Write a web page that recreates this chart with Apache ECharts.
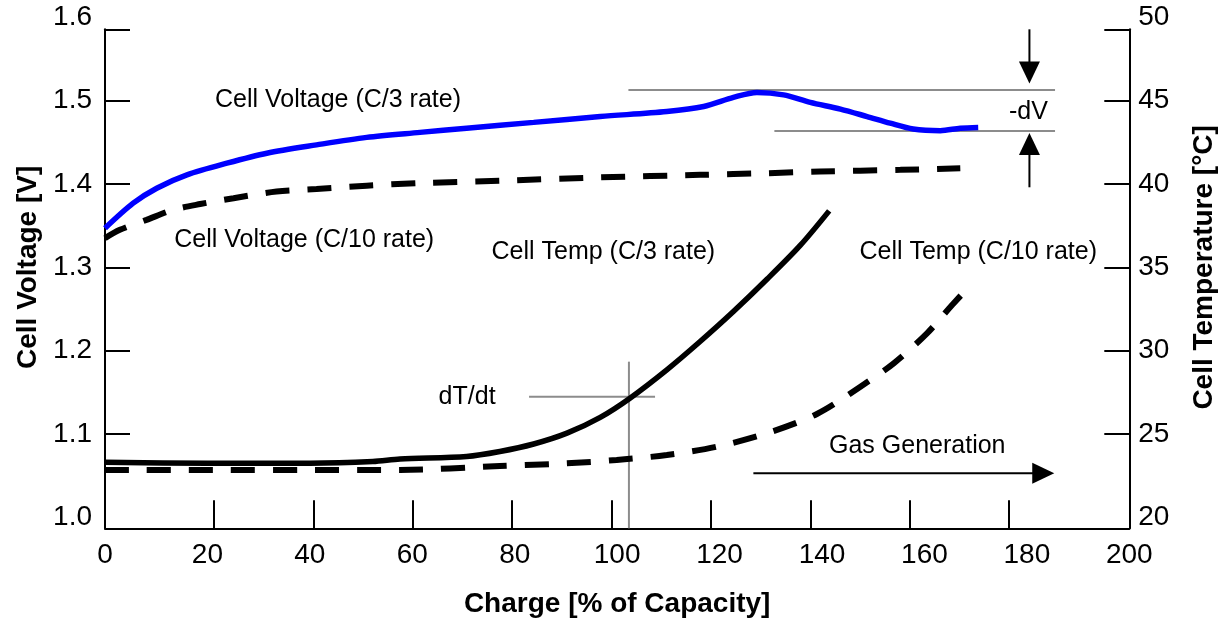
<!DOCTYPE html>
<html>
<head>
<meta charset="utf-8">
<script src="https://cdn.jsdelivr.net/npm/echarts@6/dist/echarts.min.js"></script>
<style>
html,body{margin:0;padding:0;background:#fff;}
#chart{width:1226px;height:632px;}
</style>
</head>
<body>
<div id="chart"></div>
<script>
// ---- tick labels ----
const xTickValues = [0, 20, 40, 60, 80, 100, 120, 140, 160, 180, 200];
const voltTickValues = [1.0, 1.1, 1.2, 1.3, 1.4, 1.5, 1.6];
const tempTickValues = [20, 25, 30, 35, 40, 45, 50];

// ---- Cell Voltage (C/3 rate) ----
const chargeVoltC3 = [0, 5.5, 10.1, 16.0, 23.8, 31.6, 41.3, 51.1, 61.5, 70.6, 83.7, 96.7, 109.7, 116.9, 122.7, 127.3, 132.5, 137.7, 143.6, 148.8, 153.3, 157.8, 163.1, 167.0, 170.5];
const voltC3 = [1.347, 1.377, 1.395, 1.411, 1.425, 1.437, 1.447, 1.456, 1.462, 1.467, 1.474, 1.481, 1.487, 1.493, 1.504, 1.510, 1.507, 1.498, 1.490, 1.481, 1.473, 1.466, 1.464, 1.467, 1.468];

// ---- Cell Voltage (C/10 rate) ----
const chargeVoltC10 = [0, 2.9, 8.1, 13.3, 18.6, 25.1, 33.5, 41.3, 51.1, 60.9, 77.1, 96.7, 116.2, 129.2, 139.6, 155.3, 167.0];
const voltC10 = [1.335, 1.345, 1.357, 1.369, 1.376, 1.383, 1.391, 1.394, 1.398, 1.401, 1.404, 1.408, 1.411, 1.413, 1.415, 1.417, 1.419];

// ---- Cell Temp (C/3 rate) ----
const chargeTempC3 = [0, 20, 40, 52.3, 57.6, 70.6, 77.1, 83.7, 90.2, 96.7, 102.5, 109.7, 116.2, 122.7, 129.3, 135.7, 141.4];
const tempC3 = [23.3, 23.25, 23.25, 23.35, 23.5, 23.65, 23.95, 24.4, 25.05, 26.0, 27.15, 28.85, 30.55, 32.35, 34.3, 36.3, 38.39];

// ---- Cell Temp (C/10 rate) ----
const chargeTempC10 = [0, 57.6, 77.1, 90.2, 99.9, 109.7, 119.5, 129.2, 139.0, 147.5, 154.0, 160.5, 165.4, 169.5];
const tempC10 = [22.84, 22.84, 23.08, 23.24, 23.44, 23.74, 24.24, 25.04, 26.2, 27.84, 29.24, 31.04, 32.74, 34.1];

// ---- annotation guide lines (data units) ----
const dvUpperX = [102.2, 185.5];  const dvUpperV = [1.5128, 1.5128];
const dvLowerX = [130.7, 185.5];  const dvLowerV = [1.4636, 1.4636];
const dtdtVertX = [102.3, 102.3]; const dtdtVertT = [29.34, 19.34];
const dtdtHorX = [82.8, 107.4];   const dtdtHorT = [27.24, 27.24];

// ---- arrows (shafts + heads) ----
const dvDownShaftX = [180.5, 180.5]; const dvDownShaftV = [1.5857, 1.534];
const dvUpShaftX = [180.5, 180.5];   const dvUpShaftV = [1.3961, 1.448];
const gasShaftX = [126.6, 183.2];    const gasShaftV = [1.0528, 1.0528];
const arrowHeadX = [180.5, 180.5, 183.2];
const arrowHeadV = [1.534, 1.448, 1.0528];
const arrowHeadRot = [180, 0, -90];

// ---- annotation texts ----
const annoText = ['Cell Voltage (C/3 rate)', 'Cell Voltage (C/10 rate)', 'Cell Temp (C/3 rate)', 'Cell Temp (C/10 rate)', 'dT/dt', '-dV', 'Gas Generation'];
const annoX = [45.5, 38.9, 97.3, 170.5, 70.7, 180.3, 158.6];
const annoV = [1.5008, 1.3328, 1.318, 1.318, 1.1447, 1.4868, 1.0859];

const zip = (a, b) => a.map((v, i) => [v, b[i]]);
const FONT = "'Liberation Sans', Arial, Helvetica, sans-serif";
const BLACK = '#000000';

const chart = echarts.init(document.getElementById('chart'), null, {renderer: 'canvas'});

const noSplit = {show: false};
const option = {
  animation: false,
  backgroundColor: '#ffffff',
  textStyle: {fontFamily: FONT, color: BLACK},
  tooltip: {show: false},
  grid: [
    {left: 105, right: 96.7, top: 17.4, bottom: 114.7, outerBoundsMode: 'none', containLabel: false},
    {left: 105, right: 96.7, top: 29.3, bottom: 103.7, outerBoundsMode: 'none', containLabel: false}
  ],
  xAxis: [
    {gridIndex: 0, type: 'value', min: 0, max: 200, show: false, splitLine: noSplit},
    {
      gridIndex: 1, type: 'value', min: 0, max: 200, position: 'bottom',
      axisLine: {show: true, onZero: false, lineStyle: {color: BLACK, width: 2}},
      axisTick: {show: false},
      splitLine: noSplit,
      axisLabel: {customValues: xTickValues, formatter: v => String(v), color: BLACK, fontSize: 28, fontFamily: FONT, margin: 13},
      name: 'Charge [% of Capacity]', nameLocation: 'middle', nameGap: 62,
      nameTextStyle: {fontWeight: 'bold', fontSize: 28, color: BLACK, fontFamily: FONT}
    },
    {
      gridIndex: 1, type: 'value', min: -1.93, max: 204.2, position: 'bottom',
      axisLine: {show: false},
      axisTick: {show: true, inside: true, length: 28, customValues: xTickValues.slice(1, -1), lineStyle: {color: BLACK, width: 2}},
      axisLabel: {show: false},
      splitLine: noSplit
    }
  ],
  yAxis: [
    {
      gridIndex: 0, type: 'value', position: 'left', min: 1.0, max: 1.6,
      axisLine: {show: false},
      axisTick: {show: true, inside: true, length: 25, customValues: voltTickValues.slice(1, -1), lineStyle: {color: BLACK, width: 2}},
      axisLabel: {customValues: voltTickValues, formatter: v => v.toFixed(1), color: BLACK, fontSize: 28, fontFamily: FONT, margin: 13},
      splitLine: noSplit,
      name: 'Cell Voltage [V]', nameLocation: 'middle', nameRotate: 90, nameGap: 62,
      nameTextStyle: {fontWeight: 'bold', fontSize: 28, color: BLACK, fontFamily: FONT}
    },
    {
      gridIndex: 0, type: 'value', position: 'right', min: 20, max: 50,
      axisLine: {show: false},
      axisTick: {show: true, inside: true, length: 25, customValues: tempTickValues.slice(1, -1), lineStyle: {color: BLACK, width: 2}},
      axisLabel: {customValues: tempTickValues, formatter: v => String(v), color: BLACK, fontSize: 28, fontFamily: FONT, margin: 9},
      splitLine: noSplit,
      name: 'Cell Temperature [°C]', nameLocation: 'middle', nameRotate: 90, nameGap: 61,
      nameTextStyle: {fontWeight: 'bold', fontSize: 28, color: BLACK, fontFamily: FONT}
    },
    {
      gridIndex: 1, type: 'value', position: 'left', min: 1.0, max: 1.6,
      axisLine: {show: true, onZero: false, lineStyle: {color: BLACK, width: 2}},
      axisTick: {show: true, inside: true, length: 25, customValues: [voltTickValues[voltTickValues.length - 1]], lineStyle: {color: BLACK, width: 2}},
      axisLabel: {show: false},
      splitLine: noSplit
    },
    {
      gridIndex: 1, type: 'value', position: 'right', min: 20, max: 50,
      axisLine: {show: true, onZero: false, lineStyle: {color: BLACK, width: 2}},
      axisTick: {show: true, inside: true, length: 25, customValues: [tempTickValues[tempTickValues.length - 1]], lineStyle: {color: BLACK, width: 2}},
      axisLabel: {show: false},
      splitLine: noSplit
    }
  ],
  series: [
    // gray guide lines
    {type: 'line', name: 'dV upper', xAxisIndex: 0, yAxisIndex: 0, data: zip(dvUpperX, dvUpperV), symbol: 'none', clip: false, silent: true, z: 1, lineStyle: {color: '#8c8c8c', width: 2}},
    {type: 'line', name: 'dV lower', xAxisIndex: 0, yAxisIndex: 0, data: zip(dvLowerX, dvLowerV), symbol: 'none', clip: false, silent: true, z: 1, lineStyle: {color: '#8c8c8c', width: 2}},
    {type: 'line', name: 'dTdt vertical', xAxisIndex: 0, yAxisIndex: 1, data: zip(dtdtVertX, dtdtVertT), symbol: 'none', clip: false, silent: true, z: 1, lineStyle: {color: '#8c8c8c', width: 2}},
    {type: 'line', name: 'dTdt horizontal', xAxisIndex: 0, yAxisIndex: 1, data: zip(dtdtHorX, dtdtHorT), symbol: 'none', clip: false, silent: true, z: 1, lineStyle: {color: '#8c8c8c', width: 2}},
    // arrow shafts
    {type: 'line', name: 'dV down arrow', xAxisIndex: 0, yAxisIndex: 0, data: zip(dvDownShaftX, dvDownShaftV), symbol: 'none', clip: false, silent: true, z: 3, lineStyle: {color: BLACK, width: 2}},
    {type: 'line', name: 'dV up arrow', xAxisIndex: 0, yAxisIndex: 0, data: zip(dvUpShaftX, dvUpShaftV), symbol: 'none', clip: false, silent: true, z: 3, lineStyle: {color: BLACK, width: 2}},
    {type: 'line', name: 'Gas arrow', xAxisIndex: 0, yAxisIndex: 0, data: zip(gasShaftX, gasShaftV), symbol: 'none', clip: false, silent: true, z: 3, lineStyle: {color: BLACK, width: 2}},
    // arrow heads
    {type: 'scatter', name: 'arrow heads', xAxisIndex: 0, yAxisIndex: 0, clip: false, silent: true, z: 4,
      symbol: 'triangle', symbolSize: [21, 22],
      data: arrowHeadX.map((x, i) => ({value: [x, arrowHeadV[i]], symbolRotate: arrowHeadRot[i]})),
      itemStyle: {color: BLACK, opacity: 1}},
    // curves
    {type: 'line', name: 'Cell Voltage (C/10 rate)', xAxisIndex: 0, yAxisIndex: 0, data: zip(chargeVoltC10, voltC10), symbol: 'none', smooth: 0.3, z: 5,
      lineStyle: {color: BLACK, width: 6, type: [24, 18], cap: 'butt'}},
    {type: 'line', name: 'Cell Temp (C/10 rate)', xAxisIndex: 0, yAxisIndex: 1, data: zip(chargeTempC10, tempC10), symbol: 'none', smooth: 0.3, z: 5,
      lineStyle: {color: BLACK, width: 6, type: [24, 18], cap: 'butt'}},
    {type: 'line', name: 'Cell Temp (C/3 rate)', xAxisIndex: 0, yAxisIndex: 1, data: zip(chargeTempC3, tempC3), symbol: 'none', smooth: 0.3, z: 5,
      lineStyle: {color: BLACK, width: 5.5}},
    {type: 'line', name: 'Cell Voltage (C/3 rate)', xAxisIndex: 0, yAxisIndex: 0, data: zip(chargeVoltC3, voltC3), symbol: 'none', smooth: 0.3, z: 6,
      lineStyle: {color: '#0000ff', width: 5.5}},
    // text annotations
    {type: 'scatter', name: 'annotations', xAxisIndex: 0, yAxisIndex: 0, clip: false, silent: true, z: 7,
      symbolSize: 2, itemStyle: {color: 'rgba(0,0,0,0)', opacity: 1},
      data: annoText.map((t, i) => [annoX[i], annoV[i], t]),
      label: {show: true, position: 'inside', formatter: p => p.value[2], color: BLACK, opacity: 1, fontSize: 25, fontFamily: FONT, align: 'center', verticalAlign: 'middle'}}
  ]
};
chart.setOption(option);
</script>
</body>
</html>
